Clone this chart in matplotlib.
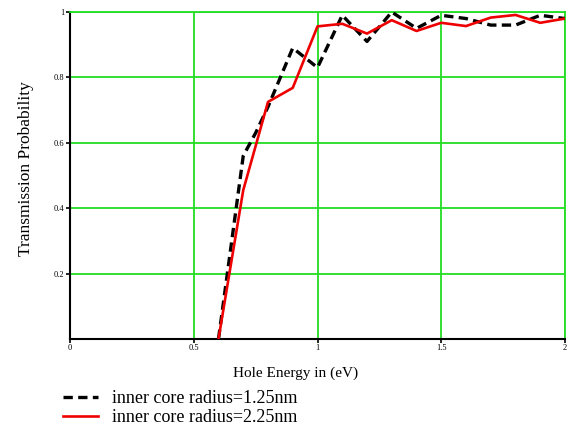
import matplotlib
matplotlib.use('Agg')
import matplotlib.pyplot as plt

# Transmission probability vs hole energy
x_small = [0.6, 0.65, 0.7, 0.75, 0.8, 0.85, 0.9, 1.0, 1.1, 1.2, 1.3, 1.4, 1.5, 1.6, 1.7, 1.8, 1.9, 2.0]
t_small = [0.0, 0.28, 0.56, 0.63, 0.71, 0.80, 0.89, 0.83, 0.99, 0.91, 1.0, 0.95, 0.99, 0.98, 0.96, 0.96, 0.99, 0.98]

x_large = [0.6, 0.7, 0.8, 0.9, 1.0, 1.1, 1.2, 1.3, 1.4, 1.5, 1.6, 1.7, 1.8, 1.9, 2.0]
t_large = [0.0, 0.455, 0.725, 0.768, 0.956, 0.964, 0.934, 0.975, 0.942, 0.967, 0.957, 0.983, 0.991, 0.967, 0.98]

x_ticks = [0, 0.5, 1, 1.5, 2]
x_labels = ['0', '0.5', '1', '1.5', '2']
y_ticks = [0.2, 0.4, 0.6, 0.8, 1]
y_labels = ['0.2', '0.4', '0.6', '0.8', '1']

plt.rcParams['font.family'] = ['Liberation Serif', 'DejaVu Serif']

fig = plt.figure(figsize=(5.69, 4.29), dpi=100)
ax = fig.add_axes([0.123, 0.21, 0.870, 0.762])

green = '#22dd22'
ax.grid(True, color=green, linewidth=1.3)
ax.set_axisbelow(True)

ax.plot(x_small, t_small, color='black', linewidth=2.4, linestyle=(0, (2.8, 1.6)),
        label='inner core radius=1.25nm', zorder=3)
ax.plot(x_large, t_large, color='#ee0000', linewidth=1.9,
        label='inner core radius=2.25nm', zorder=4)

ax.set_xlim(0, 2)
ax.set_ylim(0, 1)
ax.set_xticks(x_ticks)
ax.set_xticklabels(x_labels)
ax.set_yticks(y_ticks)
ax.set_yticklabels(y_labels)
ax.tick_params(labelsize=6, length=3, width=1.2, direction='out', pad=1)

for s in ['top', 'right']:
    ax.spines[s].set_color(green)
    ax.spines[s].set_linewidth(1.3)
for s in ['left', 'bottom']:
    ax.spines[s].set_color('black')
    ax.spines[s].set_linewidth(1.5)

ax.set_xlabel('Hole Energy in (eV)', fontsize=11)
ax.xaxis.set_label_coords(0.455, -0.085)
ax.set_ylabel('Transmission Probability', fontsize=12.5)
ax.yaxis.set_label_coords(-0.072, 0.52)

fig.legend(loc='upper left', bbox_to_anchor=(0.094, 0.112), frameon=False,
           fontsize=13, handlelength=1.95, handletextpad=0.8, labelspacing=0.12,
           borderpad=0)

fig.savefig('out.png', dpi=100)
